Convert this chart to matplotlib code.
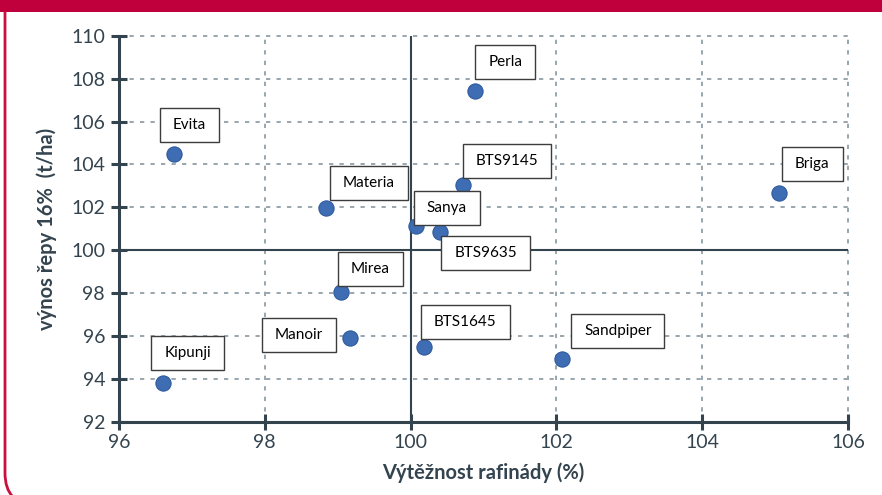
import matplotlib
matplotlib.use("Agg")
import matplotlib.pyplot as plt
from matplotlib.patches import Rectangle, PathPatch
from matplotlib.path import Path
from matplotlib.transforms import IdentityTransform

names = ["Kipunji", "Evita", "Materia", "Sanya", "BTS9635", "BTS9145",
         "Perla", "Briga", "Mirea", "Manoir", "BTS1645", "Sandpiper"]
x_vals = [96.60, 96.75, 98.84, 100.07, 100.40, 100.72,
          100.88, 105.05, 99.05, 99.17, 100.18, 102.08]
y_vals = [93.81, 104.51, 101.95, 101.12, 100.84, 103.02,
          107.44, 102.65, 98.05, 95.91, 95.49, 94.93]
# label offsets in pixels (dx, dy, y up)
label_offsets = [(25, 30), (15.5, 29), (42.5, 25.5), (31, 18.5), (46, -21), (44, 24),
                 (30.5, 28.5), (33.5, 29), (29, 23.5), (-51, 3.5), (41.5, 25), (55.5, 28.5)]
x_ticks = [96, 98, 100, 102, 104, 106]
y_ticks = [92, 94, 96, 98, 100, 102, 104, 106, 108, 110]
x_title = "Výtěžnost rafinády (%)"
y_title = "výnos řepy 16%  (t/ha)"

W, H = 882, 495
fig = plt.figure(figsize=(W / 100, H / 100), dpi=100)
fig.patch.set_facecolor("white")

crimson = "#c0003c"
dark = "#34444f"
gridc = "#9aa6ae"

# top bar
fig.add_artist(Rectangle((0, H - 12), W, 12, transform=IdentityTransform(),
                         facecolor=crimson, edgecolor="none", zorder=0))
# left rounded border
r = 32
verts = [(5, H - 12), (5, r - 10), (5, -10), (5 + r, -10)]
codes = [Path.MOVETO, Path.LINETO, Path.CURVE3, Path.CURVE3]
fig.add_artist(PathPatch(Path(verts, codes), transform=IdentityTransform(),
                         facecolor="none", edgecolor="#c8103f", lw=2.0, zorder=0))

ax = fig.add_axes([119 / W, (H - 422) / H, (848 - 119) / W, (422 - 35.7) / H])
ax.set_xlim(96, 106)
ax.set_ylim(92, 110)
ax.set_xticks(x_ticks)
ax.set_yticks(y_ticks)
ax.set_xticklabels([str(t) for t in x_ticks])
ax.set_yticklabels([str(t) for t in y_ticks])

for s in ["top", "right"]:
    ax.spines[s].set_visible(False)
for s in ["left", "bottom"]:
    ax.spines[s].set_color(dark)
    ax.spines[s].set_linewidth(2.2)
    ax.spines[s].set_zorder(5)

ax.tick_params(direction="inout", length=12, width=2.2, color=dark,
               labelcolor=dark, labelsize=14)
ax.tick_params(axis="y", pad=4)
ax.tick_params(axis="x", pad=3)
for lab in ax.get_xticklabels() + ax.get_yticklabels():
    lab.set_family("Lato")

ax.grid(True, color=gridc, lw=1.4, linestyle=(0, (2.2, 3.2)), zorder=0)
ax.set_axisbelow(True)
for gl in ax.get_xgridlines() + ax.get_ygridlines():
    gl.set_clip_on(False)

ax.axvline(100, color=dark, lw=1.5, zorder=2)
ax.axhline(100, color=dark, lw=1.5, zorder=2)

ax.scatter(x_vals, y_vals, s=120, color="#3f6db3", edgecolor="#2f5a9e",
           linewidth=0.8, zorder=4)

texts = []
for n, xv, yv, (dx, dy) in zip(names, x_vals, y_vals, label_offsets):
    t = ax.annotate(n, (xv, yv), xytext=(dx * 0.72, dy * 0.72),
                    textcoords="offset points", ha="center", va="center",
                    fontsize=11, family="Lato", color="black", zorder=7)
    texts.append(t)

ax.set_xlabel(x_title, fontsize=14.5, fontweight="bold", family="Lato",
              color=dark, labelpad=8)
ax.set_ylabel(y_title, fontsize=14.5, fontweight="bold", family="Lato",
              color=dark, labelpad=10)

fig.canvas.draw()
renderer = fig.canvas.get_renderer()
for t in texts:
    bb = t.get_window_extent(renderer)
    cx = (bb.x0 + bb.x1) / 2
    cy = (bb.y0 + bb.y1) / 2
    w = bb.width + 26
    h = 34
    rect = Rectangle((cx - w / 2, cy - h / 2), w, h, transform=IdentityTransform(),
                     facecolor="white", edgecolor="#3c3c3c", lw=1.0, zorder=6,
                     clip_on=False)
    ax.add_patch(rect)
    rect.set_transform(IdentityTransform())

fig.savefig("out.png", dpi=100)
